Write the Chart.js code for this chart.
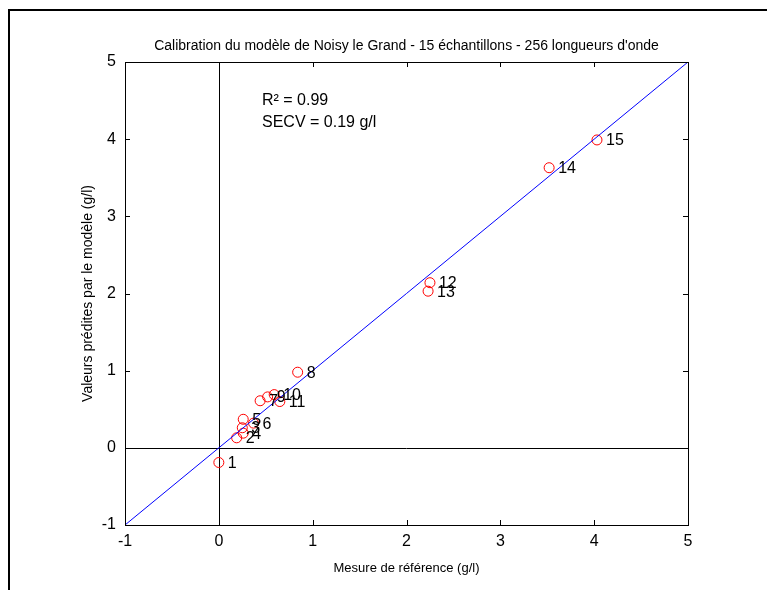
<!DOCTYPE html>
<html>
<head>
<meta charset="utf-8">
<script src="https://cdn.jsdelivr.net/npm/chart.js@4.4.1/dist/chart.umd.min.js"></script>
<style>
  html, body { margin: 0; padding: 0; background: #fff; }
  #wrap { position: relative; width: 767px; height: 590px; }
</style>
</head>
<body>
<div id="wrap"><canvas id="calib" width="767" height="590"></canvas></div>
<script>
/* --- data --- */
const sampleIds   = ['1', '2', '3', '4', '5', '6', '7', '8', '9', '10', '11', '12', '13', '14', '15'];
const refValues   = [0.00, 0.19, 0.25, 0.26, 0.26, 0.37, 0.44, 0.84, 0.52, 0.59, 0.65, 2.25, 2.23, 3.52, 4.03];
const predValues  = [-0.19, 0.13, 0.26, 0.19, 0.37, 0.32, 0.61, 0.98, 0.66, 0.69, 0.60, 2.14, 2.03, 3.63, 3.99];
const identityX   = [-1, 5];
const axisMin = -1, axisMax = 5;

const chartTitle = 'Calibration du modèle de Noisy le Grand - 15 échantillons - 256 longueurs d\'onde';
const xLabel = 'Mesure de référence (g/l)';
const yLabel = 'Valeurs prédites par le modèle (g/l)';
const statsText = ['R² = 0.99', 'SECV = 0.19 g/l'];

const FONT = '"Liberation Sans", Arial, sans-serif';

/* --- plugin: figure frame, zero lines, box, labels --- */
const matlabLook = {
  id: 'matlabLook',
  beforeDraw(chart) {
    const c = chart.ctx;
    c.save();
    c.fillStyle = '#fff';
    c.fillRect(0, 0, chart.width, chart.height);
    c.strokeStyle = '#000';
    c.lineWidth = 2;
    c.beginPath();
    c.moveTo(9, chart.height);
    c.lineTo(9, 10);
    c.lineTo(chart.width, 10);
    c.stroke();
    c.restore();
  },
  beforeDatasetsDraw(chart) {
    const c = chart.ctx, a = chart.chartArea;
    const sx = chart.scales.x, sy = chart.scales.y;
    c.save();
    c.strokeStyle = '#000';
    c.lineWidth = 1;
    const x0 = Math.round(sx.getPixelForValue(0)) + 0.5;
    const y0 = Math.round(sy.getPixelForValue(0)) + 0.5;
    c.beginPath();
    c.moveTo(x0, a.top); c.lineTo(x0, a.bottom);
    c.moveTo(a.left, y0); c.lineTo(a.right, y0);
    c.stroke();
    c.restore();
  },
  afterDatasetsDraw(chart) {
    const c = chart.ctx, a = chart.chartArea;
    const sx = chart.scales.x, sy = chart.scales.y;
    c.save();
    // axes box + inward ticks
    c.strokeStyle = '#000';
    c.lineWidth = 1;
    c.strokeRect(Math.round(a.left) + 0.5, Math.round(a.top) + 0.5,
                 Math.round(a.right - a.left), Math.round(a.bottom - a.top));
    c.beginPath();
    for (let v = axisMin; v <= axisMax; v++) {
      const px = Math.round(sx.getPixelForValue(v)) + 0.5;
      const py = Math.round(sy.getPixelForValue(v)) + 0.5;
      c.moveTo(px, a.bottom); c.lineTo(px, a.bottom - 5);
      c.moveTo(px, a.top); c.lineTo(px, a.top + 5);
      c.moveTo(a.left, py); c.lineTo(a.left + 5, py);
      c.moveTo(a.right, py); c.lineTo(a.right - 5, py);
    }
    c.stroke();

    // sample numbers next to points
    const meta = chart.getDatasetMeta(1);
    c.fillStyle = '#000';
    c.font = '16px ' + FONT;
    c.textBaseline = 'middle';
    c.textAlign = 'left';
    meta.data.forEach((pt, i) => {
      c.fillText(sampleIds[i], pt.x + 9, pt.y + 1);
    });

    // stats text
    const tx = sx.getPixelForValue(0.46);
    c.font = '16px ' + FONT;
    c.fillText(statsText[0], tx, sy.getPixelForValue(4.5));
    c.fillText(statsText[1], tx, sy.getPixelForValue(4.22));

    // title and axis labels
    const cx = (a.left + a.right) / 2;
    c.textAlign = 'center';
    c.font = '14px ' + FONT;
    c.fillText(chartTitle, cx, 46);
    c.font = '13px ' + FONT;
    c.fillText(xLabel, cx, 568);
    c.font = '14px ' + FONT;
    c.translate(88, (a.top + a.bottom) / 2);
    c.rotate(-Math.PI / 2);
    c.fillText(yLabel, 0, 0);
    c.restore();
  }
};

const ctx = document.getElementById('calib');
new Chart(ctx, {
  data: {
    datasets: [
      {
        type: 'line',
        label: 'y = x',
        data: identityX.map(v => ({ x: v, y: v })),
        borderColor: '#0000ff',
        borderWidth: 1,
        pointRadius: 0,
        fill: false,
        tension: 0,
      },
      {
        type: 'scatter',
        label: 'échantillons',
        data: refValues.map((v, i) => ({ x: v, y: predValues[i] })),
        pointStyle: 'circle',
        pointRadius: 5,
        borderColor: '#ff0000',
        backgroundColor: 'rgba(0,0,0,0)',
        borderWidth: 1,
      },
    ],
  },
  options: {
    responsive: false,
    animation: false,
    layout: { padding: { left: 85, top: 62, right: 79, bottom: 35 } },
    plugins: {
      legend: { display: false },
      tooltip: { enabled: false },
    },
    scales: {
      x: {
        type: 'linear',
        min: axisMin, max: axisMax,
        grid: { display: false, drawTicks: false },
        border: { display: false },
        ticks: { stepSize: 1, color: '#000', font: { family: FONT, size: 16 }, padding: 7 },
        afterFit(scale) { scale.height = 30; },
      },
      y: {
        type: 'linear',
        min: axisMin, max: axisMax,
        grid: { display: false, drawTicks: false },
        border: { display: false },
        ticks: { stepSize: 1, color: '#000', font: { family: FONT, size: 16 }, padding: 9 },
        afterFit(scale) { scale.width = 40; },
      },
    },
  },
  plugins: [matlabLook],
});
</script>
</body>
</html>
